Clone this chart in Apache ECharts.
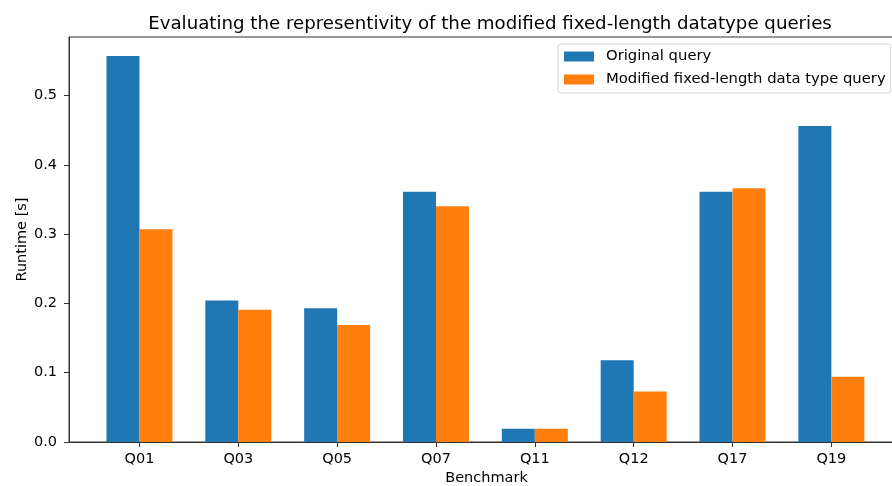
<!DOCTYPE html>
<html>
<head>
<meta charset="utf-8">
<script src="https://cdn.jsdelivr.net/npm/echarts@6/dist/echarts.min.js"></script>
<style>html,body{margin:0;padding:0;background:#fff}#c{width:892px;height:486px}</style>
</head>
<body>
<div id="c"></div>
<script>
const categories = ['Q01','Q03','Q05','Q07','Q11','Q12','Q17','Q19'];
const originalQuery = [0.557, 0.204, 0.193, 0.361, 0.019, 0.118, 0.361, 0.456];
const modifiedQuery = [0.307, 0.191, 0.169, 0.340, 0.019, 0.073, 0.366, 0.094];
const yTicks = [0, 0.1, 0.2, 0.3, 0.4, 0.5];

const font = 'DejaVu Sans';
const fs = 14.5;
const chart = echarts.init(document.getElementById('c'), null, {renderer:'canvas'});
const idx = categories.map((_, i) => i);
chart.setOption({
  animation: false,
  textStyle: {fontFamily: font},
  title: {
    text: 'Evaluating the representivity of the modified fixed-length datatype queries',
    left: 485, top: 10, textAlign: 'center',
    textStyle: {fontFamily: font, fontSize: 18.2, fontWeight: 'normal', color: '#000'}
  },
  legend: {
    orient: 'vertical', left: 558, top: 44,
    backgroundColor: '#fff', borderColor: '#d5d5d5', borderWidth: 1, borderRadius: 3,
    padding: [4, 5, 5, 6], itemWidth: 30, itemHeight: 10, itemGap: 6,
    icon: 'rect',
    textStyle: {fontFamily: font, fontSize: 14.8, lineHeight: 17, color: '#000', padding: [0, 0, 0, 7]},
    data: ['Original query', 'Modified fixed-length data type query']
  },
  grid: {
    left: 69, top: 37, width: 835, height: 405, show: true,
    borderColor: '#333', borderWidth: 1, containLabel: false, outerBoundsMode: 'none'
  },
  xAxis: {
    type: 'value', min: -0.713, max: 7.735,
    name: 'Benchmark', nameLocation: 'middle', nameGap: 29, nameMoveOverlap: false,
    nameTextStyle: {fontFamily: font, fontSize: fs, color: '#000'},
    axisLine: {show: true, onZero: false, lineStyle: {color: '#333', width: 1}},
    axisTick: {show: true, length: 5, lineStyle: {color: '#333'}, customValues: idx},
    axisLabel: {
      customValues: idx, margin: 10, fontFamily: font, fontSize: fs, color: '#000',
      formatter: v => categories[Math.round(v)]
    },
    splitLine: {show: false}
  },
  yAxis: {
    type: 'value', min: 0, max: 0.5844,
    name: 'Runtime [s]', nameLocation: 'middle', nameGap: 39, nameMoveOverlap: false,
    nameTextStyle: {fontFamily: font, fontSize: fs, color: '#000'},
    axisLine: {show: true, onZero: false, lineStyle: {color: '#333', width: 1}},
    axisTick: {show: true, length: 5, lineStyle: {color: '#333'}, customValues: yTicks},
    axisLabel: {
      customValues: yTicks, margin: 12, fontFamily: font, fontSize: fs, color: '#000',
      formatter: v => v.toFixed(1)
    },
    splitLine: {show: false}
  },
  series: [
    {
      name: 'Original query', type: 'bar', barWidth: 33, barGap: '0%',
      itemStyle: {color: '#1f77b4'},
      data: originalQuery.map((v, i) => [i, v])
    },
    {
      name: 'Modified fixed-length data type query', type: 'bar', barWidth: 33, barGap: '0%',
      itemStyle: {color: '#ff7f0e'},
      data: modifiedQuery.map((v, i) => [i, v])
    }
  ]
});
</script>
</body>
</html>
